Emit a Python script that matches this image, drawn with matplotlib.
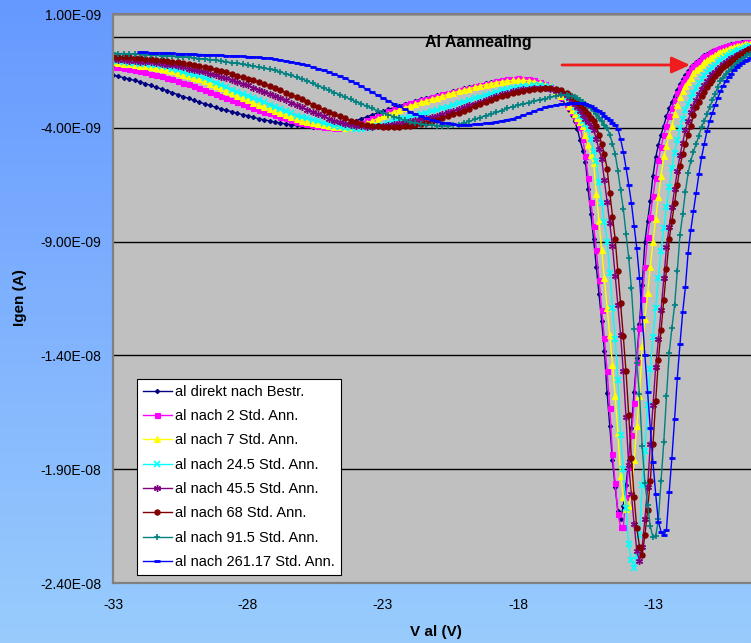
"""Al annealing series: generation current vs. Al gate voltage."""

import matplotlib

matplotlib.use("Agg")

import matplotlib.pyplot as plt
import numpy as np

plt.rcParams["font.family"] = ["Liberation Sans", "DejaVu Sans"]

# Voltage sweep: 0.2 V steps up to the dip, 0.1 V steps through it
V_COARSE = np.round(np.arange(-33.0, -16.1, 0.2), 1)
V_FINE = np.round(np.arange(-16.1, -9.35, 0.1), 1)
voltage = np.concatenate([V_COARSE, V_FINE])

# Generation current in nA
igen_direkt = [
    -1.68, -1.74, -1.80, -1.86, -1.92, -1.98, -2.06, -2.14, -2.22, -2.29,
    -2.37, -2.46, -2.54, -2.63, -2.71, -2.80, -2.87, -2.95, -3.02, -3.10,
    -3.17, -3.23, -3.29, -3.36, -3.42, -3.48, -3.54, -3.60, -3.65, -3.70,
    -3.75, -3.79, -3.83, -3.86, -3.89, -3.92, -3.94, -3.96, -3.97, -3.97,
    -3.96, -3.93, -3.89, -3.83, -3.76, -3.68, -3.60, -3.52, -3.43, -3.35,
    -3.27, -3.19, -3.11, -3.03, -2.96, -2.89, -2.82, -2.75, -2.69, -2.63,
    -2.57, -2.51, -2.45, -2.39, -2.33, -2.27, -2.21, -2.15, -2.10, -2.04,
    -1.99, -1.94, -1.90, -1.87, -1.85, -1.85, -1.86, -1.89, -1.94, -2.01,
    -2.12, -2.27, -2.47, -2.72, -3.02,
    -3.22, -3.45, -3.72, -4.05, -4.55, -5.00, -5.50, -6.70, -7.80, -8.90,
    -10.1, -11.3, -12.5, -13.8, -15.65, -17.1, -18.6, -19.8, -20.85, -21.2,
    -20.6, -19.7, -18.6, -17.2, -15.6, -14.1, -12.6, -10.9, -9.0, -8.1,
    -7.2, -6.1, -5.3, -4.75, -4.3, -3.9, -3.5, -3.15, -2.85, -2.6,
    -2.32, -2.06, -1.86, -1.68, -1.5, -1.35, -1.22, -1.1, -1.0, -0.9,
    -0.82, -0.74, -0.68, -0.62, -0.57, -0.52, -0.48, -0.44, -0.4, -0.37,
    -0.34, -0.31, -0.28, -0.26, -0.25, -0.23, -0.22, -0.21,
]

igen_2h = [
    -1.31, -1.35, -1.39, -1.43, -1.47, -1.50, -1.56, -1.62, -1.68, -1.74,
    -1.80, -1.87, -1.94, -2.01, -2.08, -2.15, -2.24, -2.33, -2.42, -2.51,
    -2.60, -2.69, -2.78, -2.87, -2.96, -3.05, -3.13, -3.21, -3.29, -3.37,
    -3.45, -3.52, -3.59, -3.66, -3.73, -3.80, -3.85, -3.89, -3.93, -3.96,
    -3.98, -4.00, -4.00, -3.98, -3.94, -3.87, -3.78, -3.67, -3.57, -3.48,
    -3.38, -3.28, -3.18, -3.08, -3.00, -2.93, -2.86, -2.79, -2.72, -2.65,
    -2.59, -2.53, -2.47, -2.41, -2.35, -2.29, -2.23, -2.17, -2.11, -2.06,
    -2.01, -1.95, -1.90, -1.86, -1.84, -1.83, -1.84, -1.87, -1.91, -1.97,
    -2.07, -2.20, -2.40, -2.65, -2.95,
    -3.10, -3.30, -3.50, -3.72, -3.95, -4.50, -5.25, -6.20, -7.25, -8.30,
    -9.35, -10.7, -12.0, -13.25, -14.7, -16.3, -18.35, -19.6, -20.95, -21.54,
    -21.54, -20.2, -18.9, -17.5, -16.1, -14.3, -12.8, -11.5, -10.1, -8.8,
    -7.9, -7.0, -6.2, -5.4, -4.85, -4.3, -3.9, -3.5, -3.12, -2.78,
    -2.48, -2.19, -1.98, -1.79, -1.6, -1.43, -1.3, -1.17, -1.06, -0.95,
    -0.86, -0.78, -0.72, -0.66, -0.6, -0.55, -0.5, -0.46, -0.42, -0.38,
    -0.35, -0.32, -0.29, -0.27, -0.26, -0.24, -0.23, -0.22,
]

igen_7h = [
    -1.12, -1.15, -1.18, -1.21, -1.24, -1.27, -1.30, -1.33, -1.36, -1.40,
    -1.46, -1.52, -1.59, -1.66, -1.73, -1.80, -1.86, -1.96, -2.06, -2.16,
    -2.27, -2.38, -2.49, -2.60, -2.71, -2.80, -2.90, -2.99, -3.08, -3.17,
    -3.26, -3.35, -3.44, -3.53, -3.61, -3.68, -3.73, -3.79, -3.84, -3.89,
    -3.93, -3.96, -3.98, -3.99, -3.98, -3.94, -3.87, -3.79, -3.70, -3.60,
    -3.50, -3.40, -3.30, -3.21, -3.12, -3.04, -2.96, -2.88, -2.81, -2.74,
    -2.67, -2.60, -2.53, -2.46, -2.40, -2.34, -2.28, -2.22, -2.16, -2.11,
    -2.06, -2.01, -1.97, -1.94, -1.92, -1.91, -1.91, -1.93, -1.97, -2.03,
    -2.11, -2.22, -2.38, -2.60, -2.88,
    -3.05, -3.20, -3.38, -3.56, -3.74, -3.92, -4.30, -4.75, -5.20, -5.55,
    -6.90, -8.10, -9.35, -10.6, -11.9, -13.1, -14.4, -15.8, -17.4, -19.3,
    -20.2, -20.75, -20.6, -20.0, -18.6, -17.1, -15.8, -13.6, -12.4, -11.25,
    -10.1, -9.0, -8.0, -7.05, -6.1, -5.25, -4.8, -4.33, -3.9, -3.4,
    -2.98, -2.66, -2.38, -2.18, -2.0, -1.8, -1.6, -1.48, -1.36, -1.24,
    -1.12, -1.01, -0.95, -0.88, -0.8, -0.72, -0.66, -0.62, -0.57, -0.53,
    -0.49, -0.45, -0.41, -0.39, -0.37, -0.34, -0.32, -0.30,
]

igen_24h = [
    -1.05, -1.08, -1.11, -1.14, -1.17, -1.19, -1.21, -1.23, -1.25, -1.28,
    -1.33, -1.40, -1.47, -1.54, -1.62, -1.68, -1.74, -1.83, -1.92, -2.02,
    -2.12, -2.22, -2.32, -2.42, -2.52, -2.62, -2.70, -2.78, -2.88, -2.98,
    -3.08, -3.18, -3.28, -3.37, -3.46, -3.53, -3.59, -3.65, -3.72, -3.79,
    -3.85, -3.90, -3.95, -3.99, -4.02, -4.04, -4.04, -4.02, -3.98, -3.93,
    -3.86, -3.78, -3.70, -3.61, -3.56, -3.51, -3.46, -3.40, -3.34, -3.28,
    -3.22, -3.15, -3.08, -3.00, -2.93, -2.85, -2.78, -2.71, -2.64, -2.57,
    -2.50, -2.43, -2.36, -2.30, -2.25, -2.21, -2.18, -2.16, -2.14, -2.13,
    -2.15, -2.22, -2.32, -2.48, -2.64,
    -2.75, -2.90, -3.08, -3.28, -3.48, -3.68, -3.85, -4.05, -4.50, -5.00,
    -5.45, -6.40, -7.30, -8.15, -9.00, -10.4, -11.9, -13.3, -15.1, -17.5,
    -19.0, -20.7, -22.3, -23.0, -23.36, -22.8, -21.9, -19.7, -18.2, -16.2,
    -14.6, -13.2, -11.9, -10.6, -9.4, -8.4, -7.5, -6.6, -5.75, -5.1,
    -4.55, -4.0, -3.6, -3.22, -2.95, -2.7, -2.46, -2.25, -2.05, -1.86,
    -1.7, -1.56, -1.44, -1.33, -1.22, -1.11, -1.01, -0.93, -0.86, -0.79,
    -0.72, -0.66, -0.61, -0.57, -0.53, -0.49, -0.45, -0.42,
]

igen_45h = [
    -0.99, -1.01, -1.03, -1.05, -1.07, -1.09, -1.11, -1.13, -1.15, -1.18,
    -1.22, -1.26, -1.30, -1.35, -1.40, -1.45, -1.50, -1.56, -1.62, -1.69,
    -1.76, -1.83, -1.90, -1.98, -2.06, -2.14, -2.23, -2.32, -2.41, -2.50,
    -2.60, -2.70, -2.80, -2.90, -3.00, -3.10, -3.20, -3.30, -3.40, -3.50,
    -3.60, -3.68, -3.75, -3.82, -3.87, -3.91, -3.94, -3.95, -3.95, -3.93,
    -3.90, -3.87, -3.84, -3.80, -3.76, -3.72, -3.67, -3.62, -3.57, -3.52,
    -3.46, -3.39, -3.32, -3.25, -3.18, -3.10, -3.02, -2.94, -2.86, -2.78,
    -2.70, -2.61, -2.53, -2.46, -2.40, -2.35, -2.31, -2.28, -2.26, -2.25,
    -2.26, -2.30, -2.37, -2.46, -2.58,
    -2.70, -2.82, -2.95, -3.10, -3.25, -3.42, -3.60, -3.75, -3.90, -4.08,
    -4.50, -4.95, -5.37, -6.30, -7.25, -8.20, -9.20, -10.5, -11.8, -13.1,
    -14.7, -16.7, -18.8, -20.1, -21.4, -22.6, -23.02, -22.4, -21.2, -19.8,
    -17.9, -16.2, -14.5, -13.3, -12.0, -10.6, -9.25, -8.35, -7.5, -6.7,
    -5.9, -5.2, -4.65, -4.1, -3.7, -3.32, -3.05, -2.78, -2.5, -2.28,
    -2.1, -1.94, -1.77, -1.65, -1.53, -1.41, -1.31, -1.2, -1.11, -1.03,
    -0.95, -0.87, -0.8, -0.74, -0.68, -0.62, -0.56, -0.51,
]

igen_68h = [
    -0.87, -0.88, -0.90, -0.91, -0.93, -0.95, -0.97, -0.99, -1.01, -1.03,
    -1.06, -1.09, -1.12, -1.16, -1.20, -1.24, -1.28, -1.33, -1.38, -1.44,
    -1.50, -1.57, -1.64, -1.71, -1.78, -1.85, -1.92, -1.99, -2.07, -2.16,
    -2.25, -2.35, -2.45, -2.55, -2.65, -2.75, -2.87, -2.98, -3.09, -3.20,
    -3.30, -3.40, -3.50, -3.59, -3.68, -3.75, -3.82, -3.87, -3.91, -3.94,
    -3.96, -3.97, -3.97, -3.96, -3.94, -3.91, -3.87, -3.82, -3.77, -3.71,
    -3.64, -3.57, -3.49, -3.41, -3.33, -3.25, -3.16, -3.06, -2.96, -2.87,
    -2.78, -2.70, -2.62, -2.55, -2.48, -2.42, -2.37, -2.33, -2.30, -2.28,
    -2.27, -2.27, -2.30, -2.36, -2.47,
    -2.58, -2.66, -2.76, -2.87, -2.98, -3.10, -3.24, -3.38, -3.55, -3.72,
    -3.92, -4.30, -4.70, -5.15, -5.80, -6.85, -7.90, -8.90, -10.3, -11.7,
    -13.15, -14.7, -16.6, -18.5, -20.2, -21.6, -22.4, -22.75, -21.9, -20.8,
    -19.5, -17.9, -16.0, -14.2, -12.9, -11.55, -10.2, -8.9, -8.1, -7.3,
    -6.5, -5.7, -5.15, -4.7, -4.3, -3.9, -3.45, -3.1, -2.85, -2.6,
    -2.42, -2.22, -2.05, -1.88, -1.74, -1.6, -1.46, -1.32, -1.23, -1.14,
    -1.05, -0.97, -0.88, -0.81, -0.74, -0.67, -0.6, -0.53,
]

igen_91h = [
    -0.73, -0.74, -0.74, -0.75, -0.76, -0.77, -0.78, -0.80, -0.81, -0.83,
    -0.84, -0.86, -0.88, -0.90, -0.91, -0.93, -0.96, -0.98, -1.01, -1.03,
    -1.06, -1.10, -1.14, -1.17, -1.21, -1.25, -1.30, -1.34, -1.39, -1.43,
    -1.48, -1.55, -1.63, -1.70, -1.78, -1.85, -1.95, -2.05, -2.15, -2.25,
    -2.35, -2.45, -2.55, -2.65, -2.75, -2.85, -2.95, -3.05, -3.15, -3.25,
    -3.35, -3.43, -3.51, -3.59, -3.67, -3.75, -3.79, -3.83, -3.86, -3.88,
    -3.90, -3.91, -3.91, -3.89, -3.86, -3.80, -3.72, -3.63, -3.55, -3.47,
    -3.40, -3.32, -3.24, -3.15, -3.07, -3.01, -2.95, -2.89, -2.83, -2.77,
    -2.72, -2.66, -2.60, -2.57, -2.58,
    -2.60, -2.62, -2.65, -2.70, -2.78, -2.86, -2.95, -3.05, -3.15, -3.25,
    -3.40, -3.55, -3.72, -3.88, -4.00, -4.30, -4.70, -5.15, -5.90, -6.75,
    -7.55, -8.65, -9.70, -11.05, -12.85, -14.35, -15.7, -18.0, -19.6, -20.57,
    -21.5, -22.0, -21.95, -21.2, -19.5, -17.8, -15.8, -13.9, -12.8, -11.8,
    -10.3, -8.7, -7.8, -6.8, -6.0, -5.45, -5.05, -4.7, -4.35, -3.95,
    -3.7, -3.4, -3.1, -2.8, -2.5, -2.2, -1.95, -1.8, -1.65, -1.52,
    -1.4, -1.28, -1.17, -1.07, -0.98, -0.9, -0.82, -0.75,
]

igen_261h = [
    np.nan, np.nan, np.nan, np.nan, np.nan,
    -0.68, -0.69, -0.70, -0.70, -0.71,
    -0.72, -0.73, -0.74, -0.75, -0.76, -0.77, -0.78, -0.79, -0.80, -0.81,
    -0.82, -0.83, -0.84, -0.85, -0.86, -0.87, -0.89, -0.91, -0.93, -0.95,
    -0.98, -1.02, -1.06, -1.10, -1.15, -1.20, -1.26, -1.33, -1.40, -1.47,
    -1.55, -1.64, -1.73, -1.83, -1.94, -2.05, -2.18, -2.31, -2.44, -2.57,
    -2.70, -2.82, -2.94, -3.06, -3.18, -3.30, -3.40, -3.50, -3.58, -3.66,
    -3.72, -3.77, -3.81, -3.84, -3.86, -3.86, -3.86, -3.84, -3.82, -3.80,
    -3.77, -3.73, -3.69, -3.64, -3.60, -3.53, -3.45, -3.36, -3.27, -3.18,
    -3.10, -3.05, -3.00, -2.96, -2.94,
    -2.93, -2.92, -2.91, -2.90, -2.90, -2.91, -2.94, -2.99, -3.05, -3.12,
    -3.20, -3.28, -3.37, -3.46, -3.56, -3.66, -3.77, -3.89, -4.05, -4.50,
    -5.05, -5.75, -6.50, -7.30, -8.30, -9.30, -10.6, -12.3, -14.0, -15.6,
    -17.2, -18.7, -20.1, -21.3, -21.75, -21.9, -21.65, -20.0, -18.5, -16.8,
    -15.0, -13.5, -12.1, -11.0, -9.5, -8.5, -7.65, -6.85, -6.05, -5.3,
    -4.7, -4.15, -3.7, -3.35, -3.0, -2.68, -2.4, -2.15, -1.95, -1.78,
    -1.62, -1.48, -1.35, -1.24, -1.15, -1.07, -1.0, -0.95,
]

labels = [
    "al direkt nach Bestr.",
    "al nach 2 Std. Ann.",
    "al nach 7 Std. Ann.",
    "al nach 24.5 Std. Ann.",
    "al nach 45.5 Std. Ann.",
    "al nach 68 Std. Ann.",
    "al nach 91.5 Std. Ann.",
    "al nach 261.17 Std. Ann.",
]

y_ticks_na = [1, -4, -9, -14, -19, -24]
x_ticks = [-33, -28, -23, -18, -13]

# colour, marker, marker size, marker edge width
styles = [
    ("#000080", "D", 2.2, 0.8),
    ("#FF00FF", "s", 3.6, 0.8),
    ("#FFFF00", "^", 4.5, 0.8),
    ("#00FFFF", "x", 4.5, 1.2),
    ("#800080", (6, 2, 0), 5.0, 1.0),
    ("#800000", "o", 3.8, 0.8),
    ("#008080", "+", 5.0, 1.2),
    ("#0000FF", "_", 4.0, 2.0),
]

series = [igen_direkt, igen_2h, igen_7h, igen_24h, igen_45h, igen_68h, igen_91h, igen_261h]

W, H = 751, 643
fig = plt.figure(figsize=(W / 100, H / 100), dpi=100)

# vertical blue gradient behind everything
bg = fig.add_axes([0, 0, 1, 1], zorder=-10)
top = np.array([0.40, 0.60, 1.00])
bottom = np.array([0.60, 0.80, 0.99])
t = np.linspace(0, 1, 256)[:, None, None]
bg.imshow(top + (bottom - top) * t, aspect="auto", extent=[0, 1, 0, 1])
bg.set_axis_off()

ax = fig.add_axes([113 / W, 1 - 583 / H, 1 - 113 / W, 569 / H])
ax.set_facecolor("#C0C0C0")

for values, label, (color, marker, ms, mew) in zip(series, labels, styles):
    ax.plot(
        voltage,
        np.asarray(values, dtype=float) * 1e-9,
        color=color,
        lw=1.0,
        marker=marker,
        ms=ms,
        mew=mew,
        mec=color,
        label=label,
    )

ax.set_xlim(-33, -9.37)
ax.set_ylim(-24e-9, 1e-9)

ax.set_yticks([v * 1e-9 for v in y_ticks_na])
ax.set_yticklabels([f"{v * 1e-9:.2E}" for v in y_ticks_na])
ax.set_xticks(x_ticks)
ax.set_xticklabels([str(v) for v in x_ticks])
ax.tick_params(axis="y", length=0, pad=8.5, labelsize=10)
ax.tick_params(axis="x", length=0, pad=10.5, labelsize=10)

ax.set_axisbelow(True)
ax.grid(axis="y", color="black", lw=1.0)
ax.grid(axis="x", visible=False)
ax.axhline(0, color="black", lw=1.0, zorder=1)

for side in ("left", "top", "bottom"):
    ax.spines[side].set_color("#808080")
    ax.spines[side].set_linewidth(1.6)
ax.spines["right"].set_visible(False)

ax.text(-19.48, -0.27e-9, "Al Aannealing", ha="center", va="center",
        fontsize=11.5, fontweight="bold")
ax.annotate(
    "",
    xy=(-11.63, -1.24e-9),
    xytext=(-16.37, -1.24e-9),
    arrowprops=dict(
        arrowstyle="-|>,head_length=0.55,head_width=0.25",
        color="#EE1C1C",
        lw=2,
        mutation_scale=20,
        shrinkA=0,
        shrinkB=0,
    ),
)

legend = ax.legend(
    loc="lower left",
    bbox_to_anchor=(137 / W, 1 - 575 / H),
    bbox_transform=fig.transFigure,
    fontsize=10.5,
    frameon=True,
    fancybox=False,
    framealpha=1,
    edgecolor="black",
    borderaxespad=0,
    borderpad=0.4,
    labelspacing=0.71,
    handlelength=2.0,
    handletextpad=0.2,
)
legend.get_frame().set_linewidth(0.8)

fig.text(20 / W, 1 - 298 / H, "Igen (A)", rotation=90, ha="center", va="center",
         fontsize=11, fontweight="bold")
fig.text(436 / W, 1 - 632 / H, "V al (V)", ha="center", va="center",
         fontsize=11, fontweight="bold")

fig.savefig("out.png", dpi=100)
